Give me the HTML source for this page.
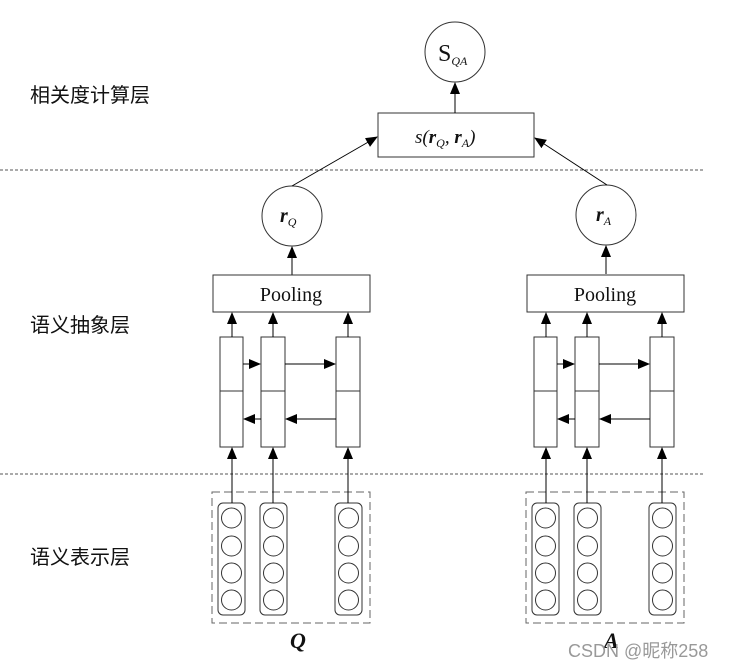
<!DOCTYPE html>
<html><head><meta charset="utf-8"><style>
body{margin:0;background:#fff}
svg{display:block}
.cn{font-family:"Liberation Sans","Noto Sans CJK SC",sans-serif;font-size:20px;fill:#111}
.sr{font-family:"Liberation Serif",serif;fill:#111}
</style></head><body>
<svg width="730" height="668" viewBox="0 0 730 668" xmlns="http://www.w3.org/2000/svg">
<defs>
<marker id="ah" markerWidth="12" markerHeight="12" refX="11" refY="5" orient="auto" markerUnits="userSpaceOnUse">
<path d="M0,0 L12,5 L0,10 z" fill="#000"/></marker>
</defs>
<g stroke="#555" stroke-width="1" stroke-dasharray="3,2">
<line x1="0" y1="170" x2="705" y2="170"/>
<line x1="0" y1="474" x2="705" y2="474"/>
</g>
<text class="cn" x="30" y="102">相关度计算层</text>
<text class="cn" x="30" y="332">语义抽象层</text>
<text class="cn" x="30" y="564">语义表示层</text>

<g fill="none" stroke="#333" stroke-width="1">
<circle cx="455" cy="52" r="30"/>
<rect x="378" y="113" width="156" height="44" fill="#fff"/>
<circle cx="292" cy="216" r="30"/>
<circle cx="606" cy="215" r="30"/>
</g>
<g stroke="#000" stroke-width="1" marker-end="url(#ah)">
<line x1="455" y1="113" x2="455" y2="83"/>
<line x1="292" y1="186" x2="377" y2="137"/>
<line x1="607" y1="185" x2="535" y2="138"/>
<line x1="292" y1="275" x2="292" y2="247"/>
<line x1="606" y1="274" x2="606" y2="246"/>
</g>
<text class="sr" x="438" y="61" font-size="24">S<tspan font-size="12" font-style="italic" dy="4">QA</tspan></text>
<text class="sr" x="415" y="143" font-size="19" font-style="italic">s(<tspan font-weight="bold">r</tspan><tspan font-size="12" dy="4">Q</tspan><tspan dy="-4">, </tspan><tspan font-weight="bold">r</tspan><tspan font-size="12" dy="4">A</tspan><tspan dy="-4">)</tspan></text>
<text class="sr" x="280" y="222" font-size="20" font-style="italic" font-weight="bold">r<tspan font-size="12" font-weight="normal" dy="4">Q</tspan></text>
<text class="sr" x="596" y="221" font-size="20" font-style="italic" font-weight="bold">r<tspan font-size="12" font-weight="normal" dy="4">A</tspan></text>

<g id="side">
<rect x="213" y="275" width="157" height="37" fill="none" stroke="#333"/>
<text class="sr" x="291" y="301" font-size="20" text-anchor="middle">Pooling</text>
<g fill="none" stroke="#333">
<rect x="220" y="337" width="23" height="110"/><line x1="220" y1="391" x2="243" y2="391"/>
<rect x="261" y="337" width="24" height="110"/><line x1="261" y1="391" x2="285" y2="391"/>
<rect x="336" y="337" width="24" height="110"/><line x1="336" y1="391" x2="360" y2="391"/>
<rect x="212" y="492" width="158" height="131" stroke="#666" stroke-dasharray="8,4"/>
<rect x="218" y="503" width="27" height="112" rx="5"/>
<rect x="260" y="503" width="27" height="112" rx="5"/>
<rect x="335" y="503" width="27" height="112" rx="5"/>
<circle cx="231.5" cy="518" r="10"/><circle cx="231.5" cy="546" r="10"/><circle cx="231.5" cy="573" r="10"/><circle cx="231.5" cy="600" r="10"/>
<circle cx="273.5" cy="518" r="10"/><circle cx="273.5" cy="546" r="10"/><circle cx="273.5" cy="573" r="10"/><circle cx="273.5" cy="600" r="10"/>
<circle cx="348.5" cy="518" r="10"/><circle cx="348.5" cy="546" r="10"/><circle cx="348.5" cy="573" r="10"/><circle cx="348.5" cy="600" r="10"/>
</g>
<g stroke="#000" marker-end="url(#ah)">
<line x1="232" y1="337" x2="232" y2="313"/>
<line x1="273" y1="337" x2="273" y2="313"/>
<line x1="348" y1="337" x2="348" y2="313"/>
<line x1="243" y1="364" x2="260" y2="364"/>
<line x1="285" y1="364" x2="335" y2="364"/>
<line x1="261" y1="419" x2="244" y2="419"/>
<line x1="336" y1="419" x2="286" y2="419"/>
<line x1="232" y1="503" x2="232" y2="448"/>
<line x1="273" y1="503" x2="273" y2="448"/>
<line x1="348" y1="503" x2="348" y2="448"/>
</g>
</g>
<use href="#side" transform="translate(314,0)"/>
<text class="sr" x="290" y="648" font-size="22" font-style="italic" font-weight="bold">Q</text>
<text class="sr" x="604" y="648" font-size="22" font-style="italic" font-weight="bold">A</text>
<text x="568" y="657" font-family="Liberation Sans,'Noto Sans CJK SC',sans-serif" font-size="18" fill="#999">CSDN @昵称258</text>
</svg>
</body></html>
